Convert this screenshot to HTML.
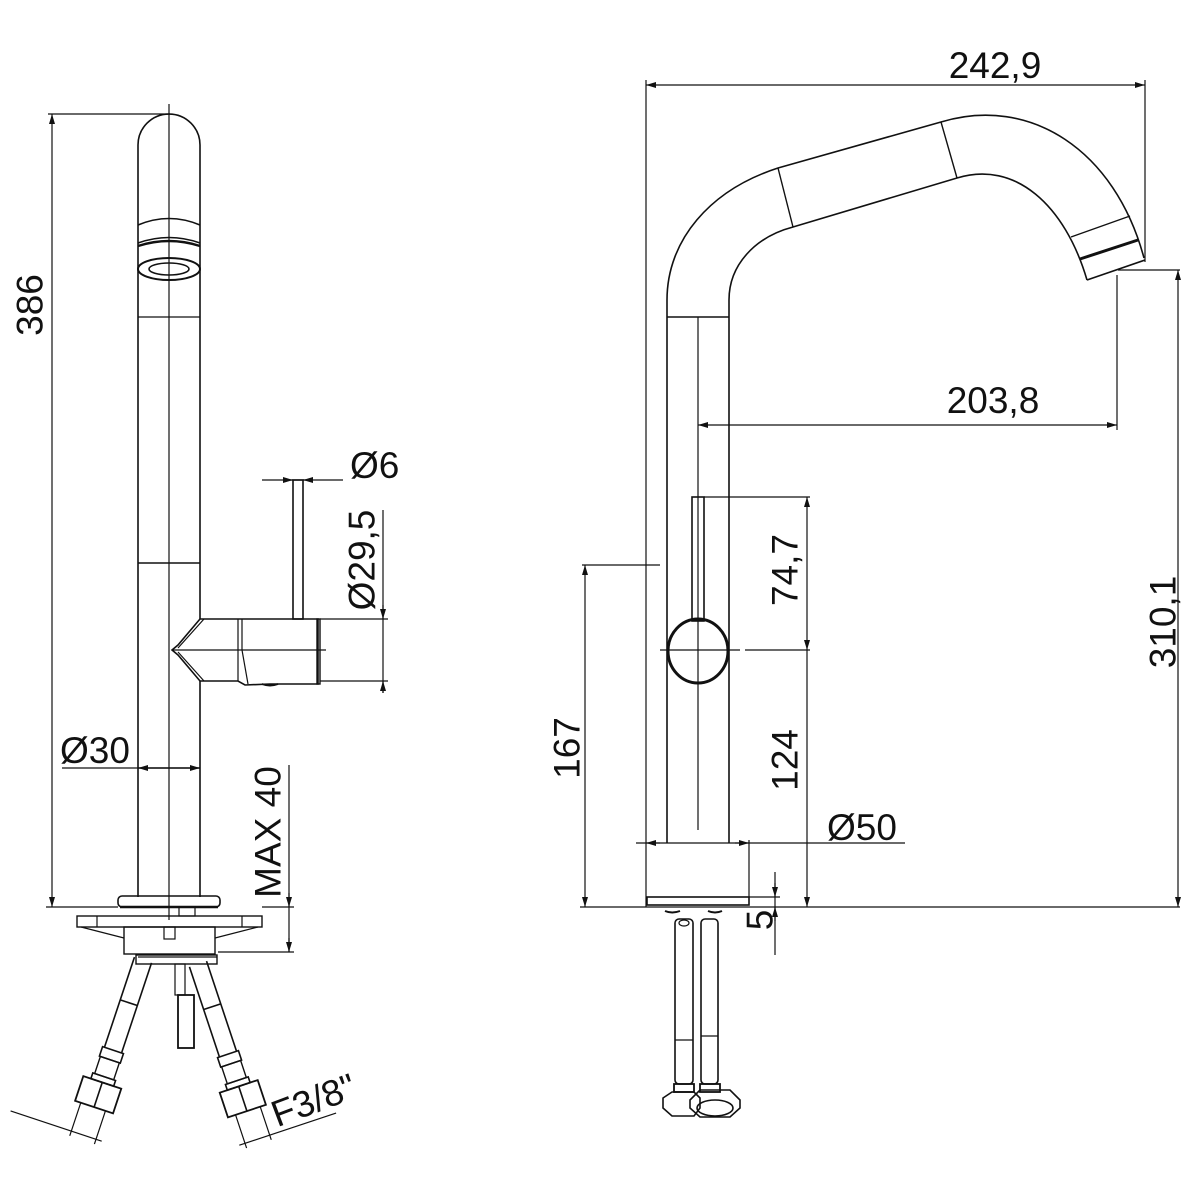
<!DOCTYPE html>
<html><head><meta charset="utf-8"><style>
html,body{margin:0;padding:0;background:#fff}
svg{display:block}
text{font-family:"Liberation Sans",sans-serif;font-size:37px;fill:#111}
</style></head><body>
<svg width="1200" height="1200" viewBox="0 0 1200 1200" xmlns="http://www.w3.org/2000/svg">
<defs>
<marker id="a" viewBox="0 0 10 6" refX="10" refY="3" markerWidth="10" markerHeight="6" orient="auto-start-reverse" markerUnits="userSpaceOnUse"><path d="M0,0 L10,3 L0,6z" fill="#111"/></marker>
</defs>
<g fill="none" stroke="#111" stroke-width="1.2">
<!-- LEFT VIEW -->
<line x1="48" y1="114" x2="170" y2="114"/>
<line x1="52" y1="114" x2="52" y2="907" marker-start="url(#a)" marker-end="url(#a)"/>
<line x1="46" y1="907" x2="118" y2="907"/>
<path d="M138,897 L138,145 A31,31 0 0 1 200,145 L200,619 M200,681 L200,897" stroke-width="1.6"/>
<line x1="169" y1="104" x2="169" y2="920"/>
<path d="M138,225 Q169,212 200,225 M138,243 Q169,232 200,243" stroke-width="1.6"/>
<path d="M138,246 Q169,236 200,246" stroke-width="2.4"/>
<ellipse cx="169" cy="269" rx="31" ry="11" stroke-width="2"/>
<ellipse cx="169" cy="269" rx="20" ry="6" stroke-width="1.6"/>
<line x1="138" y1="317" x2="200" y2="317"/>
<line x1="138" y1="563" x2="200" y2="563" stroke-width="1.6"/>
<path d="M200,619 L178,645 L172,650 L178,655 L200,681 L238,681 L245,685 L270,684 L318,684 L318,619 L238,619 Z" stroke-width="1.6"/>
<path d="M204,619 L178,648 M204,681 L178,652" />
<line x1="238" y1="619" x2="238" y2="681"/>
<line x1="242" y1="619" x2="242" y2="650"/>
<path d="M242,650 L248,684"/>
<rect x="317" y="619" width="3" height="65" stroke-width="1.4"/>
<line x1="172" y1="650" x2="326" y2="650"/>
<path d="M262,684 Q270,687 278,684" stroke-width="2"/>
<rect x="293" y="480" width="10" height="139" stroke-width="1.6"/>
<line x1="262" y1="480" x2="343" y2="480"/>
<line x1="284" y1="480" x2="293" y2="480" marker-end="url(#a)"/>
<line x1="312" y1="480" x2="303" y2="480" marker-end="url(#a)"/>
<line x1="320" y1="619" x2="388" y2="619"/>
<line x1="320" y1="681" x2="388" y2="681"/>
<line x1="383" y1="510" x2="383" y2="693"/>
<line x1="383" y1="605" x2="383" y2="619" marker-end="url(#a)"/>
<line x1="383" y1="693" x2="383" y2="681" marker-end="url(#a)"/>
<line x1="62" y1="768" x2="200" y2="768"/>
<line x1="200" y1="768" x2="138" y2="768" marker-end="url(#a)"/>
<line x1="138" y1="768" x2="200" y2="768" marker-end="url(#a)"/>
<rect x="118" y="896" width="102" height="11" rx="4" stroke-width="1.6"/>
<line x1="120" y1="907" x2="218" y2="907" stroke-width="2.4"/>
<rect x="179" y="907" width="16" height="9"/>
<rect x="77" y="916" width="185" height="11" stroke-width="1.4"/>
<line x1="97" y1="916" x2="97" y2="927"/><line x1="242" y1="916" x2="242" y2="927"/>
<path d="M81,927 L124,938 M258,927 L215,938"/>
<rect x="124" y="927" width="91" height="27" stroke-width="1.4"/>
<rect x="164" y="927" width="11" height="12"/>
<rect x="136" y="955" width="81" height="9" stroke-width="1.4"/>
<line x1="138" y1="957" x2="217" y2="957"/>
<rect x="175" y="964" width="10" height="31"/>
<rect x="178" y="995" width="16" height="53" stroke-width="1.8"/>
<line x1="262" y1="907" x2="294" y2="907"/>
<line x1="218" y1="952" x2="294" y2="952"/>
<line x1="289" y1="765" x2="289" y2="952"/>
<line x1="289" y1="893" x2="289" y2="907" marker-end="url(#a)"/>
<line x1="289" y1="938" x2="289" y2="952" marker-end="url(#a)"/>
<g transform="translate(143,960) rotate(18.4)">
<path d="M-9,0 L-9,95 M9,0 L9,95 M-9,45 L9,45" stroke-width="1.6"/>
<rect x="-11" y="95" width="22" height="10" stroke-width="1.6"/>
<rect x="-10" y="105" width="20" height="18" stroke-width="1.4"/>
<rect x="-12" y="123" width="24" height="6" stroke-width="1.6"/>
<rect x="-20" y="129" width="40" height="26" stroke-width="1.8"/>
<line x1="0" y1="129" x2="0" y2="155" stroke-width="1.6"/>
<path d="M-14,155 L-14,190 M12,155 L12,190"/>
<line x1="-78" y1="185" x2="18" y2="185"/>
</g>
<g transform="translate(198,964) rotate(-18.4)">
<path d="M-9,0 L-9,95 M9,0 L9,95 M-9,45 L9,45" stroke-width="1.6"/>
<rect x="-11" y="95" width="22" height="10" stroke-width="1.6"/>
<rect x="-10" y="105" width="20" height="18" stroke-width="1.4"/>
<rect x="-12" y="123" width="24" height="6" stroke-width="1.6"/>
<rect x="-20" y="129" width="40" height="26" stroke-width="1.8"/>
<line x1="0" y1="129" x2="0" y2="155" stroke-width="1.6"/>
<path d="M-12,155 L-12,190 M14,155 L14,190"/>
<line x1="-18" y1="185" x2="84" y2="185"/>
</g>

<!-- RIGHT VIEW -->
<line x1="646" y1="80" x2="646" y2="907"/>
<line x1="1145" y1="80" x2="1145" y2="262"/>
<line x1="646" y1="85" x2="1145" y2="85" marker-start="url(#a)" marker-end="url(#a)"/>
<path d="M667,843 L667,300 C667,240 710,190 778,168 L941,122 C1030,95 1115,150 1144,258" stroke-width="1.6"/>
<path d="M729,843 L729,300 C729,265 755,237 793,227 L957,178 C1015,160 1065,205 1087,280" stroke-width="1.6"/>
<line x1="667" y1="317" x2="729" y2="317" stroke-width="1.4"/>
<line x1="698" y1="317" x2="698" y2="830"/>
<line x1="778" y1="168" x2="793" y2="227" stroke-width="1.4"/>
<line x1="941" y1="122" x2="957" y2="178" stroke-width="1.4"/>
<line x1="1071" y1="237" x2="1130" y2="216" stroke-width="1.4"/>
<line x1="1080" y1="259" x2="1138" y2="240" stroke-width="3"/>
<line x1="1087" y1="280" x2="1145" y2="260" stroke-width="1.6"/>
<line x1="1118" y1="270" x2="1180" y2="270"/>
<line x1="1117" y1="275" x2="1117" y2="430"/>
<line x1="698" y1="425" x2="1117" y2="425" marker-start="url(#a)" marker-end="url(#a)"/>
<line x1="1178" y1="270" x2="1178" y2="907" marker-start="url(#a)" marker-end="url(#a)"/>
<rect x="692" y="497" width="12" height="124" stroke-width="1.6"/>
<ellipse cx="698" cy="651" rx="30" ry="32" stroke-width="3"/>
<line x1="660" y1="650" x2="740" y2="650"/>
<line x1="745" y1="650" x2="810" y2="650"/>
<line x1="704" y1="497" x2="810" y2="497"/>
<line x1="807" y1="497" x2="807" y2="650" marker-start="url(#a)" marker-end="url(#a)"/>
<line x1="807" y1="650" x2="807" y2="907" marker-end="url(#a)"/>
<line x1="582" y1="565" x2="660" y2="565"/>
<line x1="585" y1="565" x2="585" y2="907" marker-start="url(#a)" marker-end="url(#a)"/>
<line x1="636" y1="843" x2="905" y2="843"/>
<line x1="660" y1="843" x2="646" y2="843" marker-end="url(#a)"/>
<line x1="735" y1="843" x2="749" y2="843" marker-end="url(#a)"/>
<line x1="749" y1="840" x2="749" y2="897"/>
<rect x="647" y="897" width="102" height="8" stroke-width="1.6"/>
<line x1="580" y1="907" x2="1180" y2="907"/>
<line x1="749" y1="897" x2="780" y2="897"/>
<line x1="775" y1="872" x2="775" y2="955"/>
<line x1="775" y1="883" x2="775" y2="897" marker-end="url(#a)"/>
<line x1="775" y1="921" x2="775" y2="907" marker-end="url(#a)"/>
<path d="M665,911 Q672,914 680,911 M708,911 Q715,914 722,911" stroke-width="2"/>
<rect x="675" y="919" width="18" height="165" rx="4" stroke-width="1.6"/>
<ellipse cx="684" cy="923" rx="5" ry="3"/>
<line x1="675" y1="1040" x2="693" y2="1040"/>
<rect x="701" y="919" width="17" height="165" rx="4" stroke-width="1.6"/>
<line x1="701" y1="1036" x2="718" y2="1036"/>
<rect x="674" y="1084" width="20" height="8" stroke-width="1.8"/>
<rect x="700" y="1084" width="20" height="8" stroke-width="1.8"/>
<path d="M663,1098 L672,1092 L694,1092 L700,1098 L700,1108 L694,1116 L672,1116 L663,1108 Z" stroke-width="1.6"/>
<path d="M690,1100 L700,1090 L730,1090 L740,1100 L740,1108 L730,1117 L700,1117 L690,1108 Z" stroke-width="1.6"/>
<ellipse cx="715" cy="1108" rx="18" ry="8" stroke-width="1.6"/>
</g>
<text x="30" y="305" transform="rotate(-90 30 305)" text-anchor="middle" dominant-baseline="central">386</text>
<text x="350" y="478">Ø6</text>
<text x="362" y="560" transform="rotate(-90 362 560)" text-anchor="middle" dominant-baseline="central">Ø29,5</text>
<text x="60" y="763">Ø30</text>
<text x="268" y="832" transform="rotate(-90 268 832)" text-anchor="middle" dominant-baseline="central">MAX 40</text>
<text x="318" y="1112" transform="rotate(-20.6 318 1112)" text-anchor="middle">F3/8"</text>
<text x="995" y="78" text-anchor="middle">242,9</text>
<text x="993" y="413" text-anchor="middle">203,8</text>
<text x="1163" y="622" transform="rotate(-90 1163 622)" text-anchor="middle" dominant-baseline="central">310,1</text>
<text x="785" y="570" transform="rotate(-90 785 570)" text-anchor="middle" dominant-baseline="central">74,7</text>
<text x="785" y="760" transform="rotate(-90 785 760)" text-anchor="middle" dominant-baseline="central">124</text>
<text x="567" y="748" transform="rotate(-90 567 748)" text-anchor="middle" dominant-baseline="central">167</text>
<text x="862" y="840" text-anchor="middle">Ø50</text>
<text x="760" y="920" transform="rotate(-90 760 920)" text-anchor="middle" dominant-baseline="central">5</text>
</svg>
</body></html>
